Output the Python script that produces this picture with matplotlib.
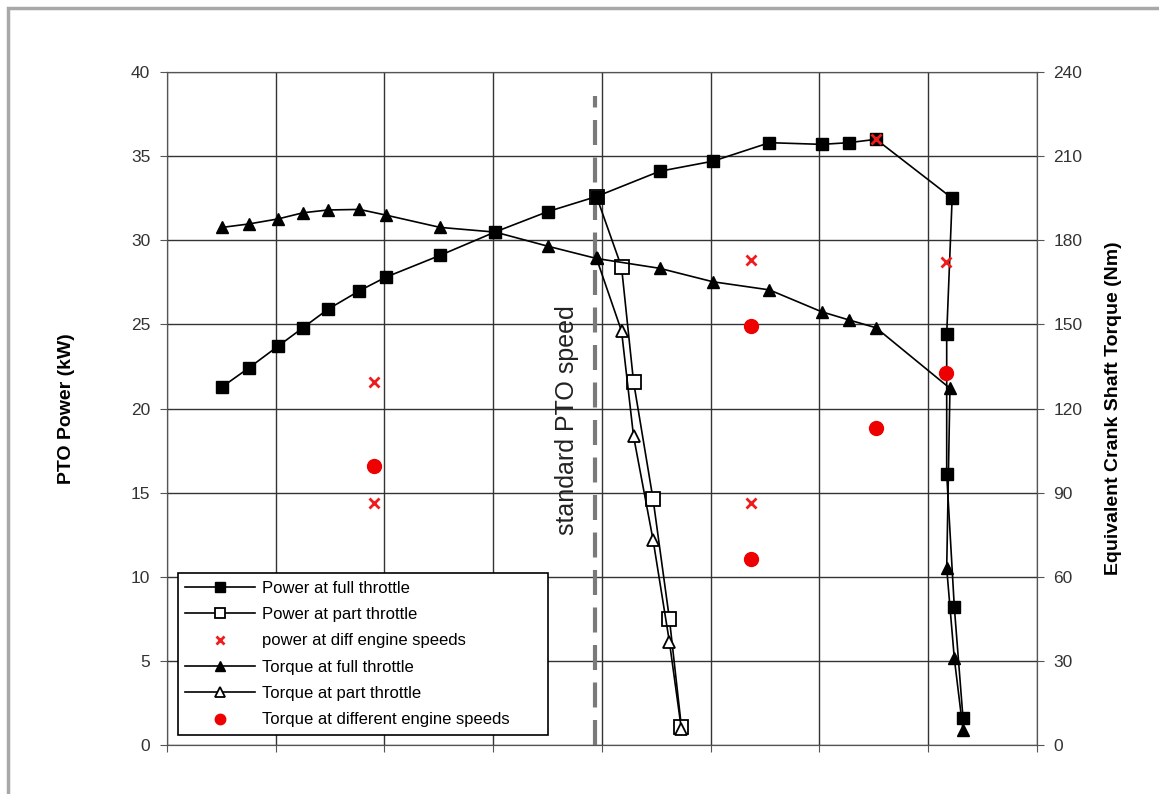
import matplotlib.pyplot as plt
from matplotlib.patches import Rectangle

plt.rcParams['font.family'] = ['Liberation Sans Narrow', 'Liberation Sans', 'DejaVu Sans']

# engine speed positions (grid units, unlabeled axis)
speed_full = [0.51, 0.75, 1.02, 1.25, 1.48, 1.77, 2.01, 2.51, 3.02, 3.50, 3.95,
              4.53, 5.02, 5.54, 6.02, 6.27, 6.52, 7.22, 7.17, 7.17, 7.24, 7.32]
power_full = [21.3, 22.4, 23.7, 24.8, 25.9, 27.0, 27.8, 29.1, 30.5, 31.7, 32.6,
              34.1, 34.7, 35.8, 35.7, 35.8, 36.0, 32.5, 24.4, 16.1, 8.2, 1.6]

speed_torque = [0.51, 0.75, 1.02, 1.25, 1.48, 1.77, 2.01, 2.51, 3.02, 3.50, 3.95,
                4.53, 5.02, 5.54, 6.02, 6.27, 6.52, 7.20, 7.17, 7.24, 7.32]
torque_full = [184.6, 185.8, 187.6, 189.8, 190.8, 191.0, 189.0, 184.6, 182.9, 177.9, 173.5,
               170.0, 165.2, 162.3, 154.5, 151.6, 148.8, 127.2, 63.0, 30.9, 5.3]

speed_part = [3.95, 4.18, 4.29, 4.47, 4.62, 4.73]
power_part = [32.6, 28.4, 21.6, 14.6, 7.5, 1.1]
torque_part = [173.5, 147.6, 110.2, 73.1, 36.8, 5.7]

speed_diff_p = [1.90, 1.90, 5.37, 5.37, 6.52, 7.16]
power_diff = [21.6, 14.4, 28.8, 14.4, 36.0, 28.7]
speed_diff_t = [1.90, 5.37, 5.37, 6.52, 7.16]
torque_diff = [99.6, 149.4, 66.3, 112.9, 132.6]

pto_speed = 3.94

fig = plt.figure(figsize=(11.59, 7.94), dpi=100)
fig.patches.append(Rectangle((0.007, -0.05), 1.2, 1.04, transform=fig.transFigure,
                             fill=False, edgecolor='#a8a8a8', linewidth=2.5))

ax = fig.add_axes([0.1441, 0.0617, 0.7506, 0.8476])
ax2 = ax.twinx()

lw = 1.2
h1, = ax.plot(speed_full, power_full, color='black', lw=lw, marker='s', ms=9,
              mfc='black', mec='black', label='Power at full throttle', zorder=3)
h2, = ax.plot(speed_part, power_part, color='black', lw=lw, marker='s', ms=10,
              mfc='white', mec='black', mew=1.3, label='Power at part throttle', zorder=2.5)
h3, = ax.plot(speed_diff_p, power_diff, ls='none', marker='x', ms=7, mew=2,
              color='#ee1c1c', label='power at diff engine speeds', zorder=4)
h4, = ax2.plot(speed_torque, torque_full, color='black', lw=lw, marker='^', ms=9,
               mfc='black', mec='black', label='Torque at full throttle', zorder=3)
h5, = ax2.plot(speed_part, torque_part, color='black', lw=lw, marker='^', ms=9,
               mfc='white', mec='black', mew=1.3, label='Torque at part throttle', zorder=2.5)
h6, = ax2.plot(speed_diff_t, torque_diff, ls='none', marker='o', ms=10,
               color='#ee0000', label='Torque at different engine speeds', zorder=4)

# standard PTO speed marker
ax.plot([pto_speed, pto_speed], [0, 38.6], color='#7a7a7a', lw=3, dashes=(6, 3), zorder=2)
ax.text(pto_speed - 0.26, 19.3, 'standard PTO speed', rotation=90, ha='center',
        va='center', fontsize=18, color='#222222')

ax.set_xlim(0, 8)
ax.set_ylim(0, 40)
ax2.set_ylim(0, 240)
ax.set_xticks(range(0, 9))
ax.set_xticklabels([])
ax.set_yticks(range(0, 41, 5))
ax2.set_yticks(range(0, 241, 30))
ax.grid(True, color='#333333', lw=1)
ax.set_axisbelow(True)

for a in (ax, ax2):
    for s in a.spines.values():
        s.set_color('#555555')
    a.tick_params(colors='#555555', labelcolor='#333333', labelsize=12.5, length=5, pad=7)

ax.set_ylabel('PTO Power (kW)', fontsize=14, fontweight='bold', labelpad=40)
ax2.set_ylabel('Equivalent Crank Shaft Torque (Nm)', fontsize=14, fontweight='bold',
               labelpad=16)

leg = ax2.legend(handles=[h1, h2, h3, h4, h5, h6], loc='lower left',
                 bbox_to_anchor=(0.0126, 0.015, 0.4253, 0.2377), mode='expand',
                 fontsize=12, frameon=True,
                 fancybox=False, edgecolor='black', framealpha=1, markerscale=0.75,
                 handlelength=4.2, borderpad=0.45, labelspacing=0.68, handletextpad=0.4,
                 borderaxespad=0)
leg.get_frame().set_linewidth(1.2)
leg.set_zorder(10)

fig.savefig('out.png', dpi=100)
